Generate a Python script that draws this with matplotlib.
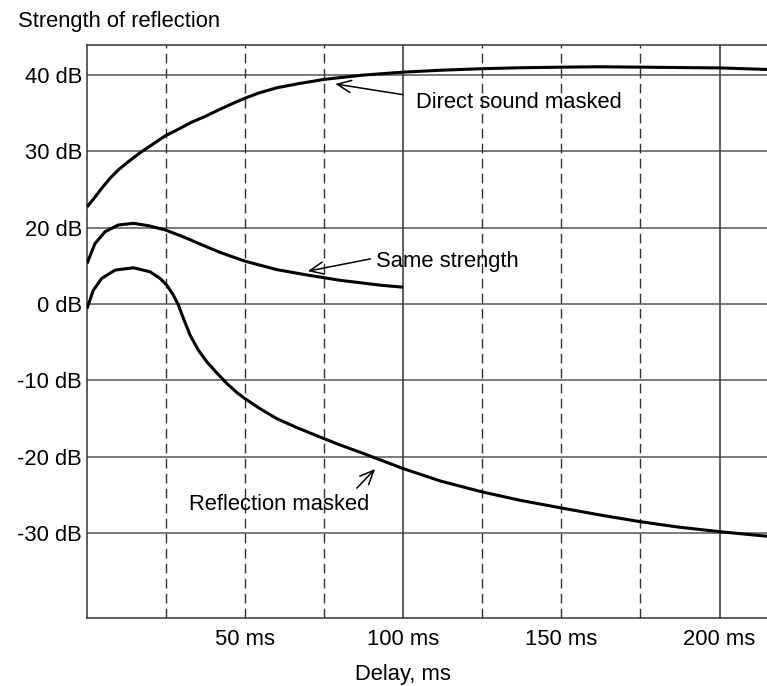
import matplotlib
matplotlib.use("Agg")
import matplotlib.pyplot as plt

plt.rcParams['font.family'] = ['Liberation Sans', 'DejaVu Sans']

# Delay (ms) and level (grid position, 10 units per gridline)
direct_ms = [0, 2.5, 4.65, 7.3, 9.9, 13.1, 16.8, 20.5, 24.7, 28.9, 33.1, 37.3, 41.6, 45.8, 50, 54.2,
             60, 67, 75, 87, 100, 112, 125, 137, 150, 162, 175, 187, 200, 215]
direct_db = [22.7, 23.97, 25.15, 26.46, 27.55, 28.64, 29.8, 30.83, 32.0, 32.88, 33.8, 34.54, 35.4, 36.2, 36.95, 37.6,
             38.3, 38.85, 39.4, 39.95, 40.35, 40.6, 40.8, 40.92, 41.0, 41.05, 41.0, 40.95, 40.9, 40.7]

same_ms = [0, 2.5, 5.7, 9.9, 14.7, 19.4, 24.7, 31, 36, 42.1, 50, 60, 69.5, 75.1, 80, 87, 93, 100]
same_db = [15.3, 17.9, 19.46, 20.34, 20.56, 20.25, 19.7, 18.7, 17.8, 16.75, 15.6, 14.5, 13.8, 13.43, 13.1, 12.75, 12.45, 12.2]

refl_ms = [0, 2.0, 4.65, 8.9, 14.7, 19.9, 23.1, 25.2, 27.3, 28.9, 30.5, 32.6, 35.2, 37.9, 41.0, 44.2, 47.4, 50,
           54.7, 60, 66.3, 74.8, 80, 87.3, 100, 112, 125, 137, 150, 162, 175, 187, 200, 215]
refl_db = [9.4, 11.8, 13.35, 14.44, 14.74, 14.22, 13.35, 12.48, 11.17, 9.86, 8.1, 5.92, 3.96, 2.43, 1.0, -0.4, -1.6, -2.4,
           -3.7, -5.0, -6.17, -7.6, -8.45, -9.55, -11.55, -13.2, -14.6, -15.7, -16.7, -17.6, -18.5, -19.2, -19.8, -20.4]

ytick_pos = [40, 30, 20, 10, 0, -10, -20]
ytick_labels = ['40 dB', '30 dB', '20 dB', '0 dB', '-10 dB', '-20 dB', '-30 dB']
xtick_pos = [50, 100, 150, 200]
xtick_labels = ['50 ms', '100 ms', '150 ms', '200 ms']
dashed_x = [25, 50, 75, 125, 150, 175]
solid_x = [100, 200]

W, H = 767, 686
fig = plt.figure(figsize=(W / 100, H / 100), dpi=100)
ax = fig.add_axes([87 / W, (H - 618) / H, (W - 87) / W, (618 - 45) / H])
ax.set_xlim(0, 215)
ax.set_ylim(-31.1, 43.9)

for y in ytick_pos:
    ax.axhline(y, color='#555555', lw=1.1, zorder=1)
for x in dashed_x:
    ax.axvline(x, color='#333333', lw=1.0, ls=(0, (7, 3.8)), zorder=1)
for x in solid_x:
    ax.axvline(x, color='#333333', lw=1.1, zorder=1)

lw = 2.2
for xs, ys in [(direct_ms, direct_db), (same_ms, same_db), (refl_ms, refl_db)]:
    ax.plot(xs, ys, color='black', lw=lw, solid_capstyle='butt', solid_joinstyle='round', zorder=3)

ax.set_yticks(ytick_pos)
ax.set_yticklabels(ytick_labels)
ax.set_xticks(xtick_pos)
ax.set_xticklabels(xtick_labels)
fs = 15.8
ax.tick_params(length=0, labelsize=fs)
ax.tick_params(axis='y', pad=3.6)
ax.tick_params(axis='x', pad=8)

for s in ['left', 'bottom', 'top']:
    ax.spines[s].set_color('#333333')
    ax.spines[s].set_linewidth(1.1)
ax.spines['right'].set_visible(False)

arrowprops = dict(arrowstyle='->,head_length=0.5,head_width=0.22', color='black', lw=1.1,
                  mutation_scale=20, shrinkA=0, shrinkB=0)
ax.annotate('', xy=(78.5, 38.8), xytext=(99.9, 37.4), arrowprops=arrowprops)
ax.text(104.1, 35.67, 'Direct sound masked', fontsize=fs, va='baseline', ha='left')

ax.annotate('', xy=(69.8, 14.3), xytext=(89.6, 15.9), arrowprops=arrowprops)
ax.text(91.5, 14.88, 'Same strength', fontsize=fs, va='baseline', ha='left')

ax.annotate('', xy=(91.1, -11.6), xytext=(85.3, -14.1), arrowprops=arrowprops)
ax.text(32.3, -17.0, 'Reflection masked', fontsize=fs, va='baseline', ha='left')

fig.text(18 / W, 1 - 26.5 / H, 'Strength of reflection', fontsize=fs, ha='left', va='baseline')
ax.text(100, -39.16, 'Delay, ms', fontsize=fs, ha='center', va='baseline', clip_on=False)

fig.savefig('out.png', dpi=100)
